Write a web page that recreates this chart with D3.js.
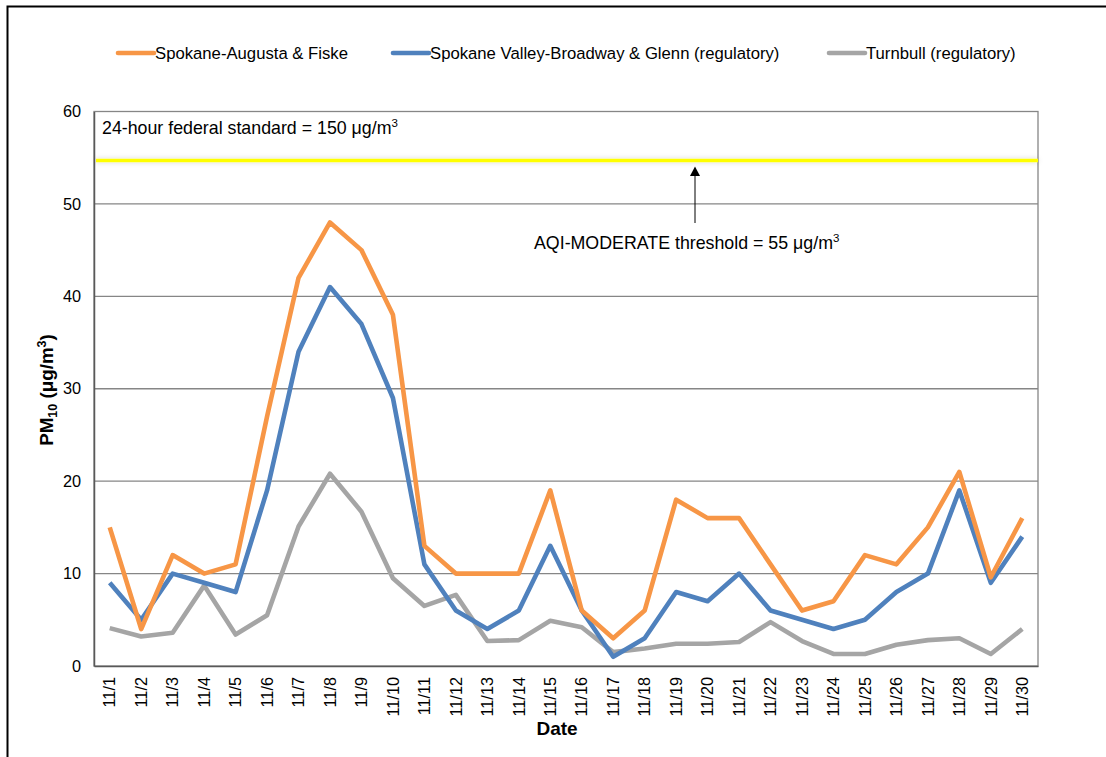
<!DOCTYPE html>
<html><head><meta charset="utf-8">
<script src="https://cdn.jsdelivr.net/npm/d3@7"></script>
<style>body{margin:0;background:#fff;} svg{display:block;font-family:"Liberation Sans",Arial,sans-serif;}</style>
</head><body>
<svg id="c" width="1106" height="757"></svg>
<script>
const dates = ["11/1","11/2","11/3","11/4","11/5","11/6","11/7","11/8","11/9","11/10","11/11","11/12","11/13","11/14","11/15","11/16","11/17","11/18","11/19","11/20","11/21","11/22","11/23","11/24","11/25","11/26","11/27","11/28","11/29","11/30"];
const augustaFiske = [15,4,12,10,11,27,42,48,45,38,13,10,10,10,19,6,3,6,18,16,16,11,6,7,12,11,15,21,9.6,16];
const valleyBroadway = [9,5,10,9,8,19,34,41,37,29,11,6,4,6,13,6,1,3,8,7,10,6,5,4,5,8,10,19,9,14];
const turnbull = [4.1,3.2,3.6,8.7,3.4,5.5,15.1,20.8,16.7,9.5,6.5,7.7,2.7,2.8,4.9,4.2,1.5,1.9,2.4,2.4,2.6,4.75,2.7,1.3,1.3,2.3,2.8,3.0,1.3,4.0];
const yTicks = [0,10,20,30,40,50,60];
const moderateLine = 54.7;
const seriesNames = ["Spokane-Augusta & Fiske","Spokane Valley-Broadway & Glenn (regulatory)","Turnbull (regulatory)"];
const seriesColors = ["#F79646","#4F81BD","#A5A5A5"];
const seriesData = [augustaFiske, valleyBroadway, turnbull];

const svg = d3.select("#c");
const L = 94, R = 1038, T = 111.5, B = 666;

// outer frame
svg.append("path").attr("d","M7.5,760 V6.5 H1110").attr("fill","none").attr("stroke","#000").attr("stroke-width",2);

const x = d3.scaleBand().domain(dates).range([L,R]).padding(0);
const xc = d => x(d) + x.bandwidth()/2;
const y = d3.scaleLinear().domain([0,60]).range([B,T]);

// gridlines
svg.append("g").selectAll("line").data(yTicks.filter(v=>v>0 && v<60)).join("line")
  .attr("x1",L).attr("x2",R).attr("y1",d=>y(d)).attr("y2",d=>y(d))
  .attr("stroke","#868686").attr("stroke-width",1.3);

// plot frame
svg.append("rect").attr("x",L).attr("y",y(60)).attr("width",R-L).attr("height",B-y(60))
  .attr("fill","none").attr("stroke","#868686").attr("stroke-width",1.3);

// axes
const yAxis = d3.axisLeft(y).tickValues(yTicks).tickSize(0).tickPadding(13);
const gy = svg.append("g").attr("transform",`translate(${L},0)`).call(yAxis);
gy.select(".domain").attr("stroke","#595959").attr("stroke-width",1.5);
gy.selectAll("text").attr("font-size",16.3).attr("fill","#000").attr("font-family","Liberation Sans, Arial");

const xAxis = d3.axisBottom(x).tickSize(0).tickPadding(0);
const gx = svg.append("g").attr("transform",`translate(0,${B})`).call(xAxis);
gx.select(".domain").attr("stroke","#595959").attr("stroke-width",1.5);
gx.selectAll("text").attr("font-size",16.3).attr("fill","#000").attr("font-family","Liberation Sans, Arial")
  .attr("text-anchor","end").attr("dy","0.35em")
  .attr("transform","translate(0,11) rotate(-90)").attr("x",0).attr("y",0);

// yellow moderate line with shadow
const defs = svg.append("defs");
const f = defs.append("filter").attr("id","glow").attr("filterUnits","userSpaceOnUse")
  .attr("x",0).attr("y",0).attr("width",1106).attr("height",757);
f.append("feGaussianBlur").attr("in","SourceAlpha").attr("stdDeviation",2.5).attr("result","b");
f.append("feFlood").attr("flood-color","#000").attr("flood-opacity",0.18);
f.append("feComposite").attr("in2","b").attr("operator","in").attr("result","s");
const fm = f.append("feMerge"); fm.append("feMergeNode").attr("in","s"); fm.append("feMergeNode").attr("in","SourceGraphic");
svg.append("line").attr("x1",L+2).attr("x2",R).attr("y1",y(moderateLine)).attr("y2",y(moderateLine))
  .attr("stroke","#FFFF00").attr("stroke-width",3.5).attr("filter","url(#glow)");

// series lines
const line = d3.line().x((d,i)=>xc(dates[i])).y(d=>y(d));
seriesData.slice().reverse().forEach((s,k)=>{
  const idx = seriesData.length-1-k;
  svg.append("path").datum(s).attr("d",line).attr("fill","none")
    .attr("stroke",seriesColors[idx]).attr("stroke-width",4.6)
    .attr("stroke-linejoin","round").attr("stroke-linecap","butt");
});

// annotations
const t1 = svg.append("text").attr("x",102).attr("y",134).attr("font-size",17.8).attr("fill","#000");
t1.append("tspan").text("24-hour federal standard = 150 μg/m");
t1.append("tspan").attr("font-size",11.5).attr("dy",-7).text("3");

const t2 = svg.append("text").attr("x",534).attr("y",249).attr("font-size",17.8).attr("fill","#000");
t2.append("tspan").text("AQI-MODERATE threshold = 55 μg/m");
t2.append("tspan").attr("font-size",11.5).attr("dy",-7).text("3");

// arrow
svg.append("line").attr("x1",695).attr("x2",695).attr("y1",223).attr("y2",175).attr("stroke","#000").attr("stroke-width",1);
svg.append("path").attr("d","M695,166.5 L690,176 L700,176 Z").attr("fill","#000");

// legend
const lx = [118,393,829];
seriesNames.forEach((n,i)=>{
  svg.append("line").attr("x1",lx[i]).attr("x2",lx[i]+36).attr("y1",53).attr("y2",53)
    .attr("stroke",seriesColors[i]).attr("stroke-width",4.6).attr("stroke-linecap","round");
  svg.append("text").attr("x",lx[i]+37).attr("y",59).attr("font-size",16.7).attr("fill","#000").text(n);
});

// axis titles
const yt = svg.append("text").attr("transform","translate(53,390) rotate(-90)").attr("text-anchor","middle")
  .attr("font-size",18.8).attr("font-weight","bold").attr("fill","#000");
yt.append("tspan").text("PM");
yt.append("tspan").attr("font-size",12.5).attr("dy",4).text("10");
yt.append("tspan").attr("dy",-4).text(" (μg/m");
yt.append("tspan").attr("font-size",12.5).attr("dy",-7).text("3");
yt.append("tspan").attr("dy",7).text(")");

svg.append("text").attr("x",557).attr("y",735).attr("text-anchor","middle").attr("font-size",19)
  .attr("font-weight","bold").attr("fill","#000").text("Date");
</script>
</body></html>
